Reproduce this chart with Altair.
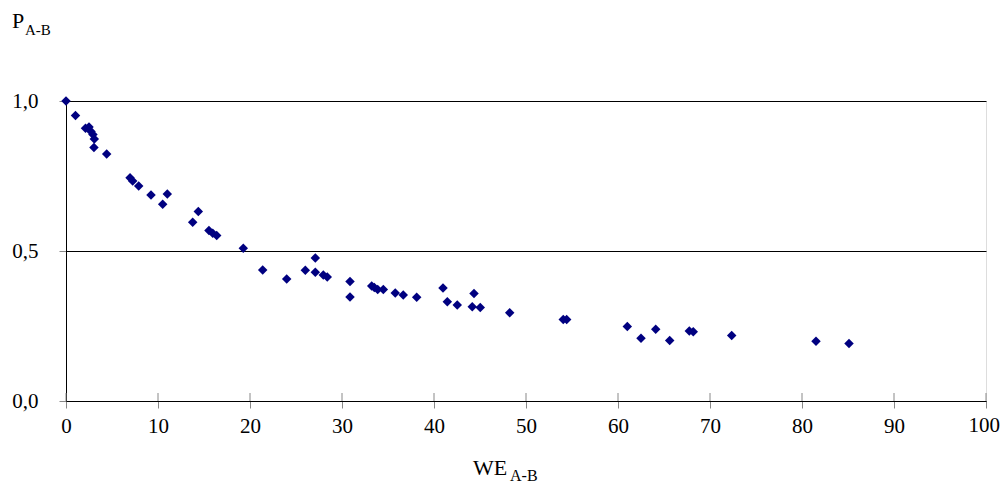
import altair as alt
import pandas as pd

# Data
we = [0.0, 1.03, 2.12, 2.5, 2.72, 2.93, 3.08, 3.04, 4.42, 6.96, 7.25, 7.9, 9.24, 10.51,
      11.01, 13.77, 14.38, 15.54, 15.95, 16.38, 19.27, 21.38, 23.99, 26.01, 27.1, 27.1,
      27.97, 28.4, 30.87, 30.87, 33.23, 33.51, 33.88, 34.49, 35.79, 36.66, 38.12, 40.98,
      41.45, 42.53, 44.35, 44.16, 45.03, 48.23, 54.05, 54.42, 61.01, 62.5, 64.1, 65.62,
      67.75, 68.18, 72.36, 81.52, 85.11]
p = [1.0, 0.952, 0.909, 0.913, 0.898, 0.888, 0.873, 0.845, 0.823, 0.744, 0.733, 0.717,
     0.687, 0.656, 0.69, 0.596, 0.632, 0.568, 0.559, 0.552, 0.509, 0.437, 0.407, 0.436,
     0.477, 0.429, 0.42, 0.413, 0.398, 0.347, 0.383, 0.378, 0.372, 0.372, 0.36, 0.353,
     0.346, 0.377, 0.331, 0.32, 0.358, 0.314, 0.312, 0.294, 0.272, 0.272, 0.248, 0.209,
     0.239, 0.202, 0.233, 0.231, 0.218, 0.199, 0.192]
x_ticks = [0, 10, 20, 30, 40, 50, 60, 70, 80, 90, 100]
y_ticks = [0.0, 0.5, 1.0]

FONT = "Liberation Serif"

df = pd.DataFrame({"we": we, "p": p})
xscale = alt.Scale(domain=[0, 100], nice=False, zero=False)
yscale = alt.Scale(domain=[0, 1], nice=False, zero=False)

last_tick = x_ticks[-1]

points = alt.Chart(df).mark_point(
    shape="diamond", filled=True, size=90, color="#000080", opacity=1
).encode(
    x=alt.X("we:Q", scale=xscale,
            axis=alt.Axis(values=x_ticks, title=None, grid=False, domainColor="black",
                          tickColor="#888888", tickSize=7, labelPadding=7,
                          labelFlush=False, labelOverlap=False,
                          labelExpr=f"datum.value == {last_tick} ? '' : datum.label",
                          labelFont=FONT, labelFontSize=21, labelColor="black")),
    y=alt.Y("p:Q", scale=yscale,
            axis=alt.Axis(values=y_ticks, title=None, grid=True, gridColor="black",
                          gridOpacity=1, gridWidth=1, domainColor="black",
                          tickColor="#888888", tickSize=7, labelPadding=21,
                          labelFlush=False, labelOverlap=False,
                          labelFont=FONT, labelFontSize=21, labelColor="black",
                          labelExpr="replace(format(datum.value, '.1f'), '.', ',')")),
)

# last x tick label, kept inside the drawing's right edge
last_label = alt.Chart(pd.DataFrame({"t": [last_tick], "s": [str(last_tick)]})).mark_text(
    font=FONT, fontSize=21, color="black", align="right", baseline="top", dx=14
).encode(x=alt.X("t:Q", scale=xscale), y=alt.value(314), text="s:N")

tick_df = pd.DataFrame({"t": x_ticks})
upper_ticks = alt.Chart(tick_df).mark_rule(color="#888888", strokeWidth=1).encode(
    x=alt.X("t:Q", scale=xscale),
    y=alt.value(292),
    y2=alt.value(300),
)

def txt(s, x, y, size):
    return alt.Chart(pd.DataFrame({"s": [s]})).mark_text(
        font=FONT, fontSize=size, color="black", align="left", baseline="alphabetic"
    ).encode(text="s:N", x=alt.value(x), y=alt.value(y))

labels = [
    txt("P", -54, -73, 22),
    txt("A-B", -41, -66, 15),
    txt("WE", 407, 374, 22),
    txt("A-B", 444, 380, 16),
]

chart = alt.layer(upper_ticks, points, last_label, *labels).properties(
    width=920, height=300,
    autosize=alt.AutoSizeParams(type="none"),
    padding={"left": 58, "top": 93, "right": 14, "bottom": 85},
).configure_view(stroke=None).configure(background="white")

chart.save("out.html", embed_options={"renderer": "svg", "actions": False})
